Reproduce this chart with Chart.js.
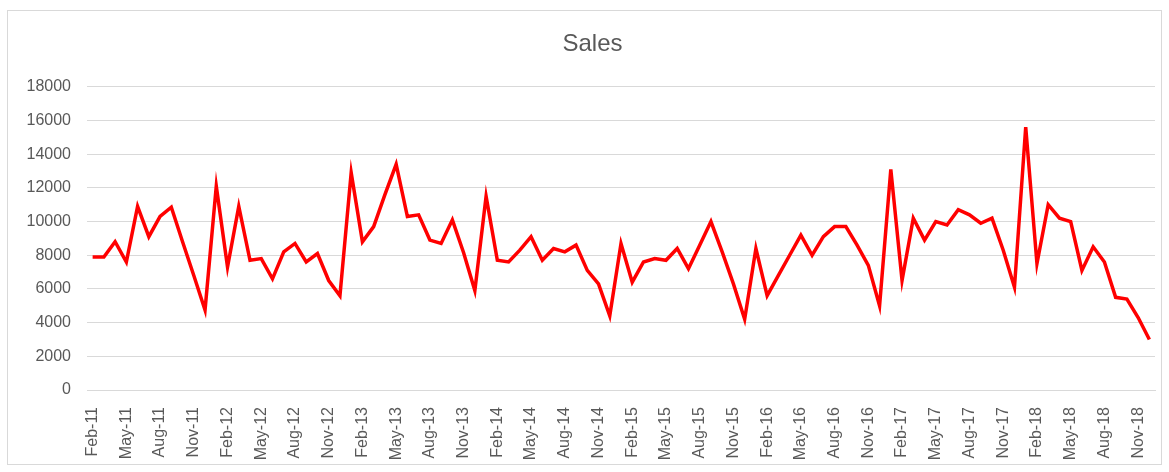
<!DOCTYPE html>
<html>
<head>
<meta charset="utf-8">
<script src="https://cdn.jsdelivr.net/npm/chart.js@4"></script>
<style>
    body { margin: 0; background: #fff; }
    #chartBox {
        position: absolute;
        left: 7px;
        top: 10px;
        width: 1155px;
        height: 455px;
        border: 1px solid #d9d9d9;
        box-sizing: border-box;
    }
</style>
</head>
<body>
<div id="chartBox"><canvas id="salesChart"></canvas></div>
<script>
// Monthly categories, Feb-11 .. Dec-18
const months = [
    "Feb-11", "Mar-11", "Apr-11", "May-11", "Jun-11", "Jul-11", "Aug-11", "Sep-11", "Oct-11", "Nov-11", "Dec-11",
    "Jan-12", "Feb-12", "Mar-12", "Apr-12", "May-12", "Jun-12", "Jul-12", "Aug-12", "Sep-12", "Oct-12", "Nov-12", "Dec-12",
    "Jan-13", "Feb-13", "Mar-13", "Apr-13", "May-13", "Jun-13", "Jul-13", "Aug-13", "Sep-13", "Oct-13", "Nov-13", "Dec-13",
    "Jan-14", "Feb-14", "Mar-14", "Apr-14", "May-14", "Jun-14", "Jul-14", "Aug-14", "Sep-14", "Oct-14", "Nov-14", "Dec-14",
    "Jan-15", "Feb-15", "Mar-15", "Apr-15", "May-15", "Jun-15", "Jul-15", "Aug-15", "Sep-15", "Oct-15", "Nov-15", "Dec-15",
    "Jan-16", "Feb-16", "Mar-16", "Apr-16", "May-16", "Jun-16", "Jul-16", "Aug-16", "Sep-16", "Oct-16", "Nov-16", "Dec-16",
    "Jan-17", "Feb-17", "Mar-17", "Apr-17", "May-17", "Jun-17", "Jul-17", "Aug-17", "Sep-17", "Oct-17", "Nov-17", "Dec-17",
    "Jan-18", "Feb-18", "Mar-18", "Apr-18", "May-18", "Jun-18", "Jul-18", "Aug-18", "Sep-18", "Oct-18", "Nov-18", "Dec-18",
];

const sales = [
    7900, 7900, 8800, 7600, 10900, 9100, 10300, 10850, 8800, 6800, 4750,
    12100, 7300, 10900, 7700, 7800, 6600, 8200, 8700, 7600, 8100, 6500, 5600,
    12900, 8800, 9700, 11600, 13400, 10300, 10400, 8900, 8700, 10100, 8150, 5900,
    11500, 7700, 7600, 8300, 9100, 7700, 8400, 8200, 8600, 7100, 6300, 4400,
    8700, 6400, 7600, 7800, 7700, 8400, 7200, 8600, 10000, 8200, 6300, 4200,
    8400, 5600, 6800, 8000, 9200, 8000, 9100, 9700, 9700, 8600, 7400, 5000,
    13100, 6500, 10200, 8900, 10000, 9800, 10700, 10400, 9900, 10200, 8300, 6100,
    15600, 7500, 11000, 10200, 10000, 7100, 8500, 7600, 5500, 5400, 4300, 3000,
];

// every third month gets a label on the axis
const labelEvery = 3;
const yTicks = [0, 2000, 4000, 6000, 8000, 10000, 12000, 14000, 16000, 18000];

const textGray = "#595959";
const gridGray = "#d9d9d9";
const fontFamily = "'Liberation Sans', Arial, sans-serif";

// Excel puts the title a little right of the canvas centre
const titleShift = {
    id: "titleShift",
    afterLayout(chart) {
        if (chart.titleBlock) {
            chart.titleBlock.left += 11;
            chart.titleBlock.right += 11;
        }
    },
};

new Chart(document.getElementById("salesChart"), {
    type: "line",
    data: {
        labels: months,
        datasets: [
            {
                label: "Sales",
                data: sales,
                borderColor: "#ff0000",
                borderWidth: 3.5,
                pointRadius: 0,
                tension: 0,
                fill: false,
            },
        ],
    },
    plugins: [titleShift],
    options: {
        responsive: true,
        maintainAspectRatio: false,
        animation: false,
        layout: {
            padding: { left: 0, right: 6, top: 0, bottom: 0 },
        },
        plugins: {
            legend: { display: false },
            tooltip: { enabled: false },
            title: {
                display: true,
                text: "Sales",
                color: textGray,
                font: { size: 24, family: fontFamily, weight: "normal" },
                padding: { top: 19, bottom: 28 },
            },
        },
        scales: {
            x: {
                offset: true,
                grid: { display: false },
                border: { display: true, color: gridGray, width: 1 },
                ticks: {
                    autoSkip: false,
                    maxRotation: 90,
                    minRotation: 90,
                    padding: 9,
                    color: textGray,
                    font: { size: 16, family: fontFamily },
                    callback: function (value, index) {
                        return index % labelEvery === 0 ? months[index] : "";
                    },
                },
                afterFit: (scale) => {
                    scale.height = 74;
                    scale.paddingLeft = 0;
                    scale.paddingRight = 0;
                },
            },
            y: {
                min: yTicks[0],
                max: yTicks[yTicks.length - 1],
                afterBuildTicks: (scale) => {
                    scale.ticks = yTicks.map((v) => ({ value: v }));
                },
                grid: { color: gridGray, lineWidth: 1, drawTicks: false },
                border: { display: false },
                ticks: {
                    padding: 16,
                    color: textGray,
                    font: { size: 16, family: fontFamily },
                    callback: (value) => String(value),
                },
                afterFit: (scale) => {
                    scale.width = 79;
                },
            },
        },
    },
});
</script>
</body>
</html>
